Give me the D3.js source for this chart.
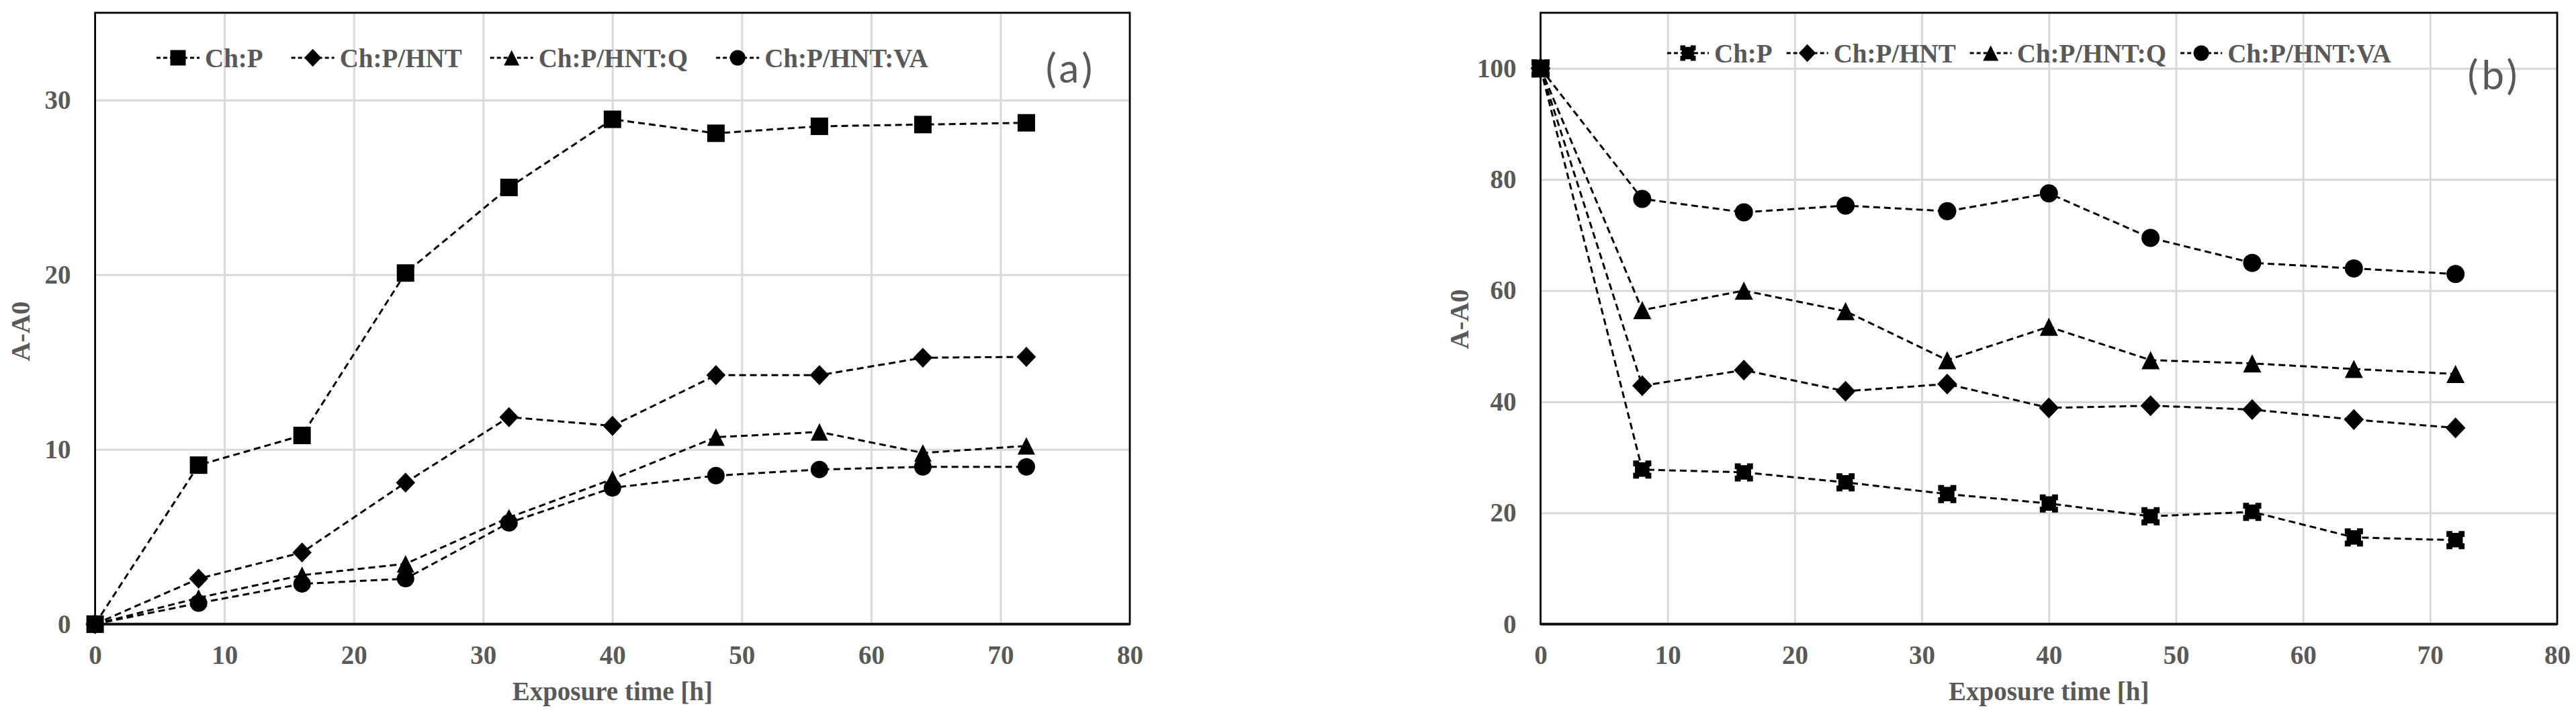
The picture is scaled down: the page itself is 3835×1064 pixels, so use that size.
<!DOCTYPE html>
<html>
<head>
<meta charset="utf-8">
<script src="https://cdn.jsdelivr.net/npm/d3@7"></script>
<style>
  body { margin: 0; background: #fff; }
  svg text { font-family: "Liberation Serif", "Times New Roman", serif; font-weight: bold; fill: #595959; }
</style>
</head>
<body>
<svg width="3835" height="1064"></svg>
<script>
// exposure times [h]
const hours = [0, 8, 16, 24, 32, 40, 48, 56, 64, 72];
const seriesNames = ["Ch:P", "Ch:P/HNT", "Ch:P/HNT:Q", "Ch:P/HNT:VA"];

// panel (a)
const aChP   = [0, 9.1, 10.8, 20.1, 25.0, 28.9, 28.1, 28.5, 28.6, 28.7];
const aHNT   = [0, 2.6, 4.1, 8.1, 11.85, 11.35, 14.25, 14.25, 15.25, 15.3];
const aHNTQ  = [0, 1.5, 2.8, 3.45, 6.1, 8.3, 10.7, 11.0, 9.8, 10.2];
const aHNTVA = [0, 1.2, 2.3, 2.6, 5.8, 7.8, 8.5, 8.85, 9.0, 9.0];

// panel (b)
const bChP   = [100, 27.8, 27.3, 25.5, 23.4, 21.7, 19.4, 20.2, 15.6, 15.1];
const bHNT   = [100, 42.9, 45.7, 41.9, 43.2, 38.9, 39.3, 38.6, 36.8, 35.3];
const bHNTQ  = [100, 56.5, 60.0, 56.3, 47.5, 53.5, 47.5, 46.9, 45.9, 45.0];
const bHNTVA = [100, 76.5, 74.1, 75.3, 74.3, 77.5, 69.5, 65.0, 64.0, 63.0];

const xTicks = [0, 10, 20, 30, 40, 50, 60, 70, 80];
const aYTicks = [0, 10, 20, 30];
const bYTicks = [0, 20, 40, 60, 80, 100];

const svg = d3.select("svg");
const fs = 39;

// marker shapes, drawn around 0,0
function markerPath(type, r) {
    if (type == "square")
        return `M${-r},${-r}H${r}V${r}H${-r}Z`;
    if (type == "notched") {
        const n = r * 0.35, d = r * 0.2;
        return `M${-r},${-r}H${-n}V${-r+d}H${n}V${-r}H${r}V${-n}H${r-d}V${n}H${r}V${r}H${n}V${r-d}H${-n}V${r}H${-r}V${n}H${-r+d}V${-n}H${-r}Z`;
    }
    if (type == "diamond")
        return `M0,${-r*1.15}L${r*1.1},0L0,${r*1.15}L${-r*1.1},0Z`;
    if (type == "triangle")
        return `M0,${-r}L${r},${r}L${-r},${r}Z`;
    return d3.symbol(d3.symbolCircle, Math.PI * r * r)();
}

function drawPanel(p) {
    const x = d3.scaleLinear().domain([0, 80]).range([p.left, p.right]);
    const y = d3.scaleLinear().domain([0, p.yMax]).range([p.bottom, p.top]);
    const w = p.right - p.left, h = p.bottom - p.top;

    // grid
    svg.append("g")
        .attr("transform", `translate(${p.left},0)`)
        .call(d3.axisLeft(y).tickValues(p.yTicks.filter(d => d > 0)).tickSize(-w).tickFormat(""))
        .call(g => g.select(".domain").remove())
        .selectAll("line").attr("stroke", "#d9d9d9").attr("stroke-width", 3);
    svg.append("g")
        .attr("transform", `translate(0,${p.bottom})`)
        .call(d3.axisBottom(x).tickValues(xTicks.slice(1, -1)).tickSize(-h).tickFormat(""))
        .call(g => g.select(".domain").remove())
        .selectAll("line").attr("stroke", "#d9d9d9").attr("stroke-width", 3);

    // frame
    svg.append("rect")
        .attr("x", p.left).attr("y", p.top)
        .attr("width", w).attr("height", h)
        .attr("fill", "none").attr("stroke", "#000").attr("stroke-width", 2.8);
    svg.append("line")
        .attr("x1", p.left).attr("x2", p.right)
        .attr("y1", y(0)).attr("y2", y(0))
        .attr("stroke", "#111").attr("stroke-width", 4);

    // tick labels
    svg.append("g")
        .attr("transform", `translate(${p.left},0)`)
        .call(d3.axisLeft(y).tickValues(p.yTicks).tickSize(0).tickPadding(36))
        .call(g => g.select(".domain").remove())
        .selectAll("text").attr("font-size", fs).attr("fill", "#595959")
        .attr("font-family", "Liberation Serif").attr("font-weight", "bold");
    svg.append("g")
        .attr("transform", `translate(0,${p.bottom})`)
        .call(d3.axisBottom(x).tickValues(xTicks).tickSize(0).tickPadding(32))
        .call(g => g.select(".domain").remove())
        .selectAll("text").attr("font-size", fs).attr("fill", "#595959")
        .attr("font-family", "Liberation Serif").attr("font-weight", "bold");

    // axis titles
    svg.append("text")
        .attr("x", (p.left + p.right) / 2).attr("y", 1042)
        .attr("text-anchor", "middle").attr("font-size", fs)
        .text("Exposure time [h]");
    svg.append("text")
        .attr("transform", `translate(${p.yTitleX},${p.yTitleY}) rotate(-90)`)
        .attr("text-anchor", "middle").attr("dy", "0.35em").attr("font-size", fs)
        .text("A-A0");

    // series
    const line = d3.line().x((d, i) => x(hours[i])).y(d => y(d));
    p.series.forEach((vals, k) => {
        svg.append("path")
            .attr("d", line(vals))
            .attr("fill", "none").attr("stroke", "#000")
            .attr("stroke-width", 3).attr("stroke-dasharray", "10,6");
    });
    p.series.forEach((vals, k) => {
        svg.append("g")
            .selectAll("path")
            .data(vals)
            .join("path")
                .attr("transform", (d, i) => `translate(${x(hours[i])},${y(d)})`)
                .attr("d", markerPath(p.markers[k], p.r))
                .attr("fill", "#000");
    });

    // legend
    let lx = p.legendX;
    const lg = svg.append("g");
    seriesNames.forEach((name, k) => {
        lg.append("line")
            .attr("x1", lx).attr("x2", lx + p.legendLine)
            .attr("y1", p.legendY).attr("y2", p.legendY)
            .attr("stroke", "#000").attr("stroke-width", 3).attr("stroke-dasharray", "6,4");
        lg.append("path")
            .attr("transform", `translate(${lx + p.legendLine / 2},${p.legendY})`)
            .attr("d", markerPath(p.markers[k], 11.5))
            .attr("fill", "#000");
        const t = lg.append("text")
            .attr("x", lx + p.legendLine + 8).attr("y", p.legendY)
            .attr("dy", "0.35em").attr("font-size", fs)
            .text(name);
        lx += p.legendLine + 8 + t.node().getComputedTextLength() + p.legendGap;
    });

    // panel letter
    svg.append("text")
        .attr("x", p.letterX).attr("y", p.letterY)
        .attr("text-anchor", "middle").attr("dy", "0.35em")
        .style("font-family", "Lato, 'Open Sans', sans-serif").style("font-weight", "normal")
        .style("letter-spacing", "5px")
        .attr("font-size", 60)
        .text(p.letter);
}

drawPanel({
    left: 141.6, right: 1682, top: 19, bottom: 928.7, yMax: 35, yTicks: aYTicks,
    series: [aChP, aHNT, aHNTQ, aHNTVA],
    markers: ["square", "diamond", "triangle", "circle"], r: 13,
    yTitleX: 30, yTitleY: 493,
    legendX: 233, legendY: 86, legendLine: 64, legendGap: 42,
    letter: "(a)", letterX: 1594, letterY: 102
});

drawPanel({
    left: 2293.5, right: 3807, top: 19, bottom: 928.7, yMax: 110, yTicks: bYTicks,
    series: [bChP, bHNT, bHNTQ, bHNTVA],
    markers: ["notched", "diamond", "triangle", "circle"], r: 13.5,
    yTitleX: 2172, yTitleY: 475,
    legendX: 2482, legendY: 79, legendLine: 62, legendGap: 21,
    letter: "(b)", letterX: 3713, letterY: 112
});
</script>
</body>
</html>
